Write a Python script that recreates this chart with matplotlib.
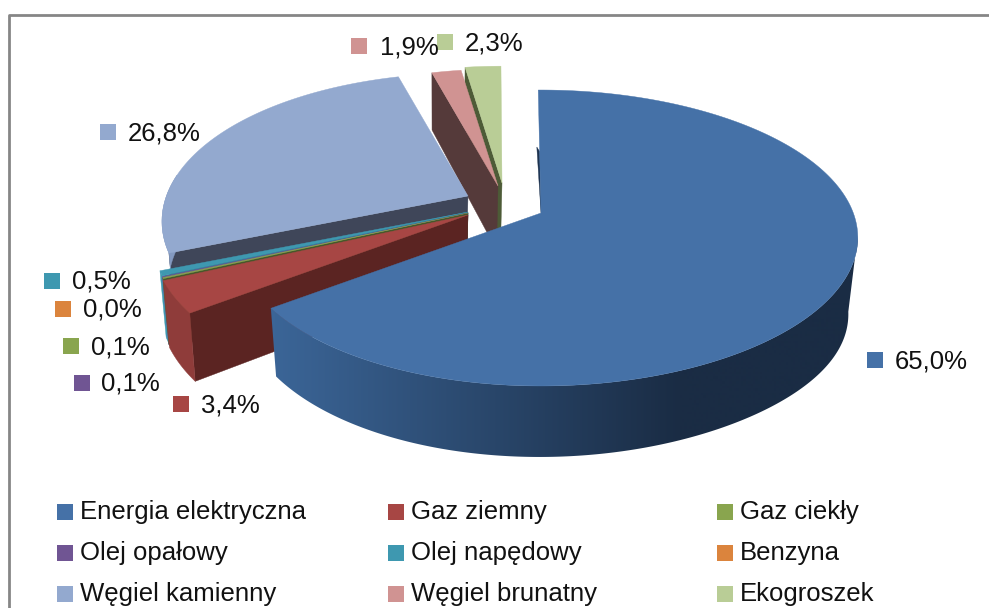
import numpy as np
import matplotlib
matplotlib.use('Agg')
import matplotlib.pyplot as plt
from matplotlib.colors import to_rgb
from matplotlib.patches import Polygon

# dane z wykresu
categories = ['Energia elektryczna', 'Gaz ziemny', 'Gaz ciekły',
              'Olej opałowy', 'Olej napędowy', 'Benzyna',
              'Węgiel kamienny', 'Węgiel brunatny', 'Ekogroszek']
values = [65.0, 3.4, 0.1, 0.1, 0.5, 0.0, 26.8, 1.9, 2.3]

colors = ['#4571A7', '#A74644', '#89A54E', '#705593', '#3E98B0', '#DB843D',
          '#93A9CF', '#D09392', '#B9CD96']
walls = ['#1D3350', '#5B2422', '#46582A', '#46365C', '#2A7F95', '#8A5020',
         '#3F4659', '#553A3A', '#4D5B37']
outer = ['#3B6597', '#8F3C3A', '#4F6A2C', '#705593', '#3E98B0', '#DB843D',
         '#8399C0', '#B88080', '#A5B886']

# polozenie wierzcholka kazdego wycinka (wysuniecie) i jego skala
apex = [(541, 213), (468, 215), (468, 213), (468, 213), (468, 212), (468, 212),
        (468, 196), (498, 186), (502, 183)]
scale = [1.0, 1.03, 1.03, 1.03, 1.03, 1.03, 1.0, 0.95, 0.95]
draw_order = [8, 7, 6, 4, 5, 3, 2, 1, 0]

# etykiety: znacznik x, y oraz poczatek tekstu
label_pos = [(875, 360, 895), (181, 404, 201), (71, 346, 91), (82, 383, 101),
             (52, 281, 72), (63, 309, 83), (108, 132, 128), (359, 46, 380),
             (445, 42, 465)]
legend_x = [65, 396, 725]
legend_y = [512, 553, 594]

D = 5.92
F = 1817
A = 851
SKEW = 0.0175
START = -0.6


def project(theta, k, bottom=False):
    x = np.sin(theta)
    z = -np.cos(theta)
    w = D - z
    px = F * x * (1 + SKEW * x) / w * k
    py = A * z / w * k
    if bottom:
        py = py + 64 + 7 * z + 12 * np.maximum(x, 0) ** 4
        px = px * 0.975 - 1.5
    return px, py


fig = plt.figure(figsize=(9.89, 6.08), dpi=100)
ax = fig.add_axes([0, 0, 1, 1])
ax.set_xlim(0, 989)
ax.set_ylim(608, 0)
ax.axis('off')

# ramka (bez dolu i prawej strony)
ax.plot([9, 9, 989], [608, 15, 15], color='#868686', lw=2)

edges = np.radians(START + np.cumsum([0] + values) * 3.6)

# gradient bocznej sciany duzego wycinka, zalezny od x
gx = np.arange(265, 870)
c_left = np.array(to_rgb('#3B6597'))
c_right = np.array(to_rgb('#1A2C44'))
gt = np.clip((680 - gx) / (680 - 275), 0, 1)[None, :, None]
grad = c_right + (c_left - c_right) * gt

for i in draw_order:
    if values[i] <= 0:
        continue
    a0, a1 = edges[i], edges[i + 1]
    ax0, ay0 = apex[i]
    k = scale[i]
    th = np.linspace(a0, a1, max(4, int(values[i] * 6)))
    tx, ty = project(th, k)
    bx, by = project(th, k, True)
    tx, ty, bx, by = tx + ax0, ty + ay0, bx + ax0, by + ay0
    cx, cy = ax0 - 1.5, ay0 + 64

    # widoczna sciana promieniowa
    if i == 0:
        # przy duzym wycinku widac tylko waski pasek
        ax.fill([ax0, (ax0 + tx[0]) / 2, bx[0]], [ay0, (ay0 + ty[0]) / 2, by[0]],
                color=walls[i], lw=0.3)
    else:
        ax.fill([ax0, tx[0], bx[0], cx], [ay0, ty[0], by[0], cy], color=walls[i], lw=0.3)

    # sciana zewnetrzna, tylko strona od patrzacego
    front = -np.cos(th) > (0.15 if i == 0 else -0.15)
    if front.sum() > 1:
        xs = np.r_[tx[front], bx[front][::-1]]
        ys = np.r_[ty[front], by[front][::-1]]
        if i == 0:
            poly = Polygon(np.c_[xs, ys], closed=True, fc='none', ec='none')
            ax.add_patch(poly)
            im = ax.imshow(grad, extent=(gx[0], gx[-1], 608, 0), aspect='auto', zorder=1)
            im.set_clip_path(poly)
            ax.set_xlim(0, 989)
            ax.set_ylim(608, 0)
        else:
            ax.fill(xs, ys, color=outer[i], lw=0.3)

    # gorna powierzchnia
    ax.fill(np.r_[ax0, tx], np.r_[ay0, ty], color=colors[i], lw=0.3, zorder=1.1 + 0.01 * draw_order.index(i))

# etykiety danych
for i, v in enumerate(values):
    mx, my, tx0 = label_pos[i]
    ax.scatter([mx], [my], marker='s', s=125, color=colors[i], linewidths=0)
    ax.text(tx0, my + 1, f'{v:.1f}%'.replace('.', ','), family='Liberation Sans',
            fontsize=18.5, color='#111111', ha='left', va='center')

# legenda
for i, name in enumerate(categories):
    col, row = i % 3, i // 3
    ax.scatter([legend_x[col]], [legend_y[row]], marker='s', s=125, color=colors[i],
               linewidths=0)
    ax.text(legend_x[col] + 15, legend_y[row], name, family='Liberation Sans',
            fontsize=18.5, color='#111111', ha='left', va='center')

fig.savefig('out.png', dpi=100)
